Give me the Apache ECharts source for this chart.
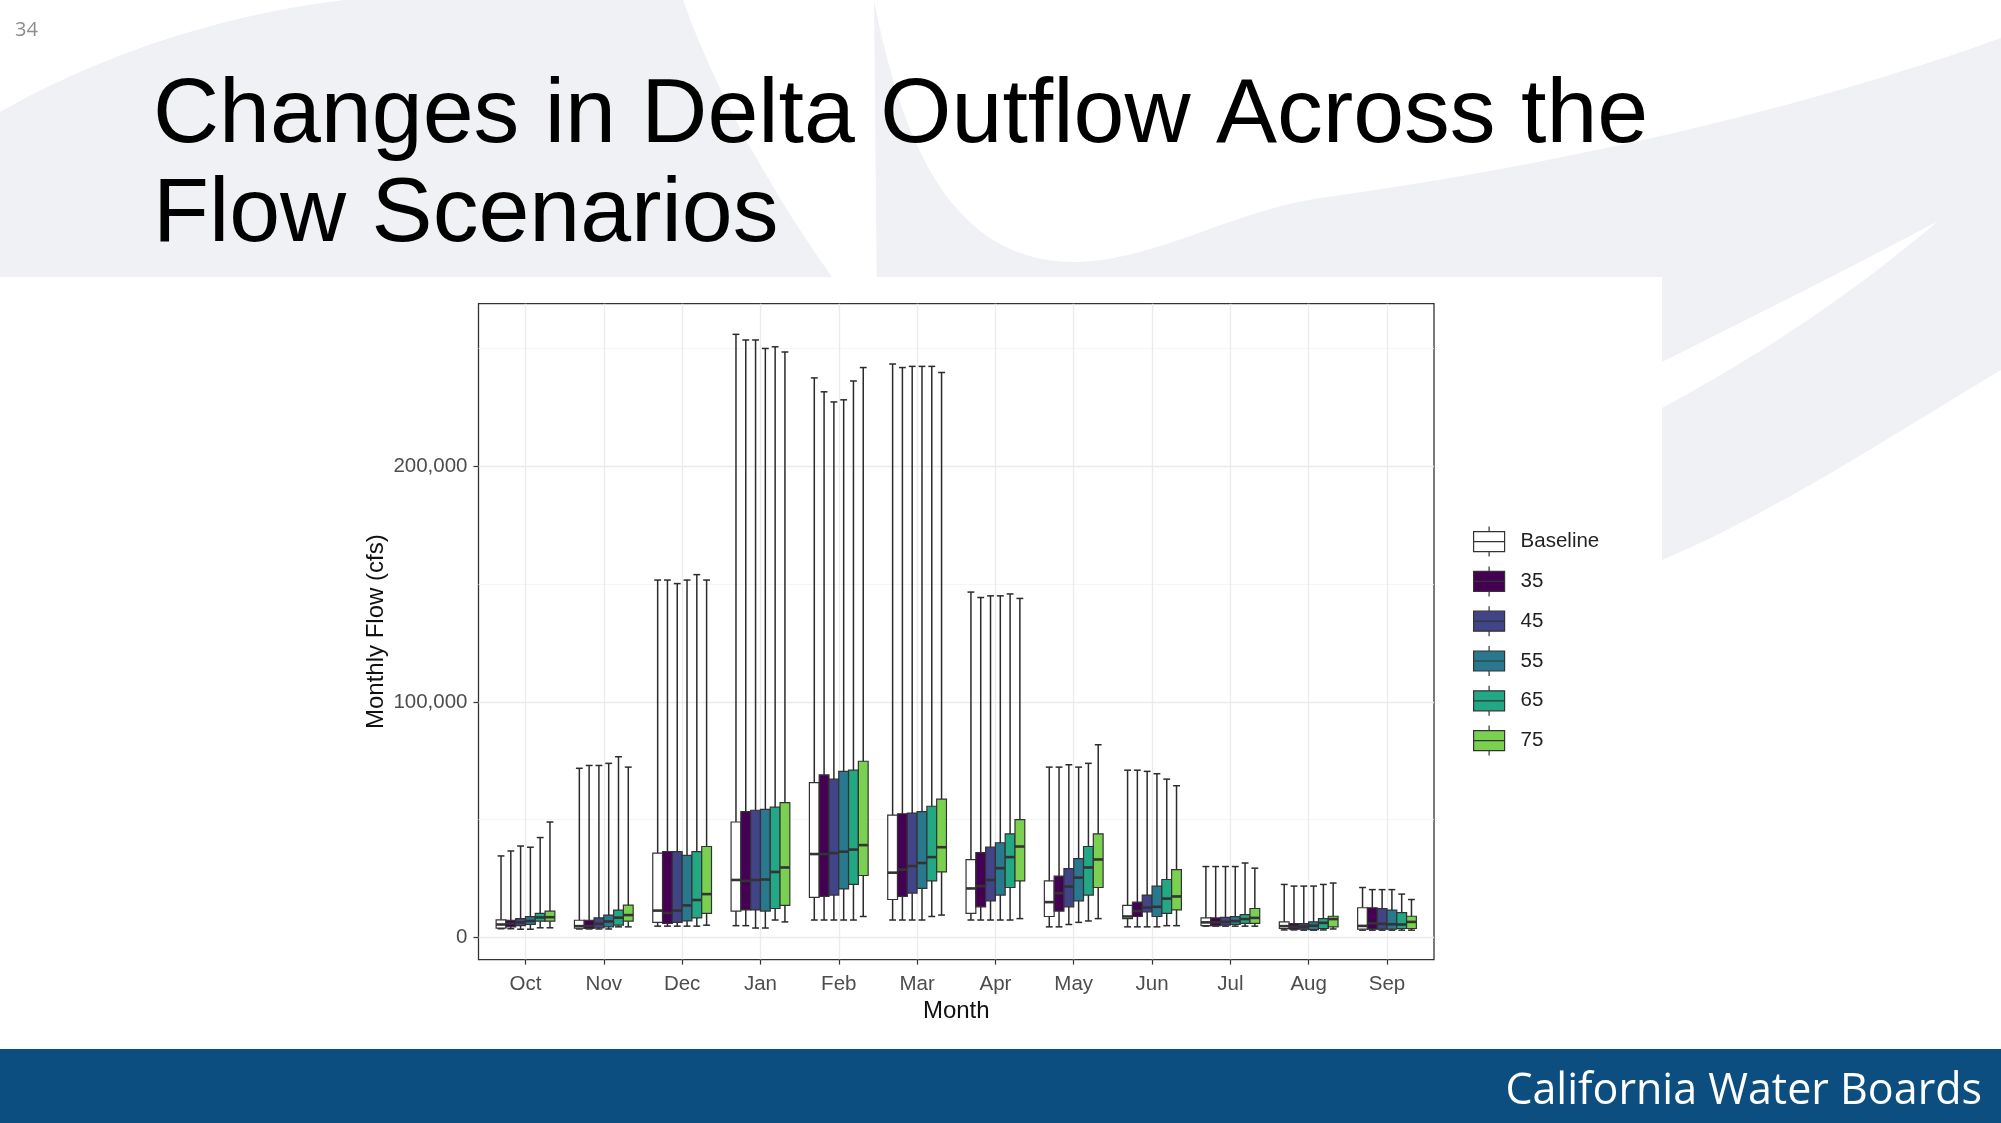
<!DOCTYPE html>
<html>
<head>
<meta charset="utf-8">
<title>Changes in Delta Outflow Across the Flow Scenarios</title>
<script src="https://cdn.jsdelivr.net/npm/echarts@6.0.0/dist/echarts.min.js"></script>
<style>
  html, body { margin: 0; padding: 0; background: #fff; }
  #chart { width: 2001px; height: 1123px; }
</style>
</head>
<body>
<div id="chart"></div>
<script>
  // water year order
  let months = ['Oct', 'Nov', 'Dec', 'Jan', 'Feb', 'Mar', 'Apr', 'May', 'Jun', 'Jul', 'Aug', 'Sep'];
  let scenarios = ['Baseline', '35', '45', '55', '65', '75'];
  let colors = ['#ffffff', '#440154', '#414487', '#2a788e', '#22a884', '#7ad151'];

  // one row per month: [min, q1, median, q3, max]  (cfs)
  let baseline = [
    [3700, 4000, 5500, 7500, 34600], [3600, 3900, 4800, 7300, 71800], [4800, 6400, 11400, 35800, 151700],
    [5000, 11200, 24400, 49000, 256000], [7400, 17000, 35400, 65700, 237500], [7400, 16100, 27500, 51900, 243400],
    [7400, 10200, 20800, 33000, 146600], [4500, 8900, 15000, 24000, 72300], [4500, 8000, 8900, 13600, 71000],
    [4800, 5000, 6400, 8300, 30100], [3200, 3800, 4800, 6600, 22500], [3100, 3500, 4900, 12600, 21200]
  ];
  let flow35 = [
    [3700, 4500, 5900, 7300, 36700], [3600, 3800, 4800, 7300, 73000], [4800, 6000, 10400, 36400, 151700],
    [5000, 11700, 24000, 53400, 253600], [7400, 17400, 35400, 69000, 231600], [7400, 17400, 28800, 52500, 241900],
    [7400, 13000, 21800, 36000, 144300], [4500, 11200, 18800, 26000, 72300], [4500, 8900, 11200, 15000, 71000],
    [4800, 5000, 6400, 8300, 30100], [3200, 3500, 4500, 5900, 21800], [3100, 3500, 6000, 12600, 20300]
  ];
  let flow45 = [
    [3500, 5000, 6400, 8000, 38800], [3600, 4100, 5800, 8300, 73000], [4800, 6400, 11400, 36400, 150200],
    [4000, 11700, 24400, 54000, 253600], [7400, 18000, 35800, 67200, 227300], [7400, 18800, 30300, 52800, 242400],
    [7400, 15500, 24400, 38300, 145000], [5500, 13000, 21600, 29200, 73300], [4500, 10800, 12700, 18000, 70500],
    [4800, 5200, 6600, 8500, 30100], [3100, 3500, 4600, 5900, 21800], [3100, 3500, 5800, 12200, 20300]
  ];
  let flow55 = [
    [3500, 5500, 7000, 8800, 38300], [3600, 4500, 6800, 9500, 73900], [4800, 7000, 13600, 34800, 151700],
    [4000, 11200, 24600, 54400, 250000], [7400, 20600, 36400, 70500, 228200], [7400, 20800, 31600, 53400, 242400],
    [7400, 18000, 29400, 40200, 145000], [6400, 15500, 25400, 33500, 72300], [4500, 8900, 13000, 21800, 69500],
    [4800, 5500, 7000, 8800, 30100], [3100, 3300, 5000, 6600, 21800], [3100, 3500, 5600, 11600, 20300]
  ];
  let flow65 = [
    [4100, 6900, 8500, 10200, 42400], [4500, 5200, 8400, 11600, 76700], [4800, 8300, 15900, 36400, 154000],
    [7400, 12300, 27800, 55300, 250700], [7400, 22500, 37300, 71000, 236200], [8900, 24000, 34100, 55700, 242400],
    [7400, 21200, 34100, 44000, 145800], [7000, 18000, 29700, 38600, 73900], [5000, 10200, 16500, 24600, 67200],
    [4800, 6000, 7800, 9700, 31600], [3200, 3800, 6200, 8000, 22500], [3100, 3800, 5500, 10500, 18400]
  ];
  let flow75 = [
    [4100, 6900, 8600, 11200, 49000], [4500, 6900, 9500, 13700, 72300], [5200, 10200, 18400, 38600, 151700],
    [6600, 13600, 29700, 57200, 248500], [8900, 26300, 39200, 74800, 241900], [9500, 27800, 38300, 58700, 239800],
    [8000, 24000, 38600, 50000, 143900], [8000, 21200, 33100, 44000, 81800], [5000, 11700, 17400, 28800, 64400],
    [4800, 6000, 8300, 12300, 29400], [3600, 4500, 7800, 9000, 23100], [3100, 3800, 6600, 9000, 16100]
  ];
  let allStats = [baseline, flow35, flow45, flow55, flow65, flow75];

  let yTicks = [0, 100000, 200000];
  let yMinor = [50000, 150000, 250000];
  let xTicks = months.map(function (m, i) { return i; });

  let font = 'Liberation Sans';
  let bgGrey = '#f0f1f4';

  // sample a cubic bezier into polygon points (background swooshes only)
  function bez(p0, p1, p2, p3) {
    let pts = [];
    for (let i = 0; i <= 24; i++) {
      let t = i / 24, u = 1 - t;
      pts.push([
        u * u * u * p0[0] + 3 * u * u * t * p1[0] + 3 * u * t * t * p2[0] + t * t * t * p3[0],
        u * u * u * p0[1] + 3 * u * u * t * p1[1] + 3 * u * t * t * p2[1] + t * t * t * p3[1]
      ]);
    }
    return pts;
  }

  let swooshLeft = [].concat(
    bez([0, 112], [100, 55], [220, 15], [344, 0]),
    bez([683, 0], [715, 90], [770, 190], [832, 277]),
    [[0, 277]]
  );
  let swooshRight = [].concat(
    bez([874, 0], [905, 160], [960, 265], [1080, 262]),
    bez([1080, 262], [1160, 258], [1230, 212], [1320, 198]),
    bez([1320, 198], [1560, 165], [1800, 110], [2001, 38]),
    bez([2001, 370], [1900, 430], [1780, 510], [1662, 560]),
    [[1662, 620], [880, 620]]
  );
  let swooshGap = [].concat(
    bez([1662, 362], [1750, 318], [1850, 268], [1938, 221]),
    bez([1938, 221], [1855, 292], [1765, 352], [1662, 408])
  );

  // one dodged box per scenario (like ggplot position_dodge)
  function renderBox(params, api) {
    let k = params.seriesIndex;
    let x = api.value(0);
    let band = api.size([1, 0])[0];
    let w = band * 0.75 / scenarios.length;
    let off = (k - (scenarios.length - 1) / 2) * w;
    let pMin = api.coord([x, api.value(1)]);
    let pQ1 = api.coord([x, api.value(2)]);
    let pMed = api.coord([x, api.value(3)]);
    let pQ3 = api.coord([x, api.value(4)]);
    let pMax = api.coord([x, api.value(5)]);
    let cx = pMin[0] + off;
    let cap = w * 0.35;
    let ls = { stroke: '#2b2b2b', lineWidth: 1.5 };
    return {
      type: 'group',
      children: [
        { type: 'line', shape: { x1: cx, y1: pMax[1], x2: cx, y2: pMin[1] }, style: ls },
        { type: 'line', shape: { x1: cx - cap, y1: pMax[1], x2: cx + cap, y2: pMax[1] }, style: ls },
        { type: 'line', shape: { x1: cx - cap, y1: pMin[1], x2: cx + cap, y2: pMin[1] }, style: ls },
        {
          type: 'rect',
          shape: { x: cx - w / 2, y: pQ3[1], width: w, height: pQ1[1] - pQ3[1] },
          style: { fill: api.visual('color'), stroke: '#333', lineWidth: 1.2 }
        },
        { type: 'line', shape: { x1: cx - w / 2, y1: pMed[1], x2: cx + w / 2, y2: pMed[1] }, style: { stroke: '#333', lineWidth: 2.6 } }
      ]
    };
  }

  let seriesList = scenarios.map(function (name, k) {
    return {
      type: 'custom',
      name: name,
      renderItem: renderBox,
      itemStyle: { color: colors[k] },
      encode: { x: 0, y: [1, 2, 3, 4, 5] },
      data: allStats[k].map(function (r, i) { return [i].concat(r); }),
      z: 3
    };
  });

  let myChart = echarts.init(document.getElementById('chart'));
  let option = {
    backgroundColor: '#fff',
    animation: false,
    title: {
      text: 'Changes in Delta Outflow Across the\nFlow Scenarios',
      left: 153,
      top: 67,
      padding: 0,
      textStyle: { fontFamily: font, fontSize: 91.5, fontWeight: 'normal', color: '#000', lineHeight: 99 }
    },
    graphic: [
      // slide background swooshes
      { type: 'polygon', silent: true, z: -20, shape: { points: swooshLeft }, style: { fill: bgGrey } },
      { type: 'polygon', silent: true, z: -20, shape: { points: swooshRight }, style: { fill: bgGrey } },
      { type: 'polygon', silent: true, z: -19, shape: { points: swooshGap }, style: { fill: '#fff' } },
      // white plot picture
      { type: 'rect', silent: true, z: -18, shape: { x: 0, y: 277, width: 1662, height: 772 }, style: { fill: '#fff' } },
      // footer band
      { type: 'rect', silent: true, z: -18, shape: { x: 0, y: 1049, width: 2001, height: 74 }, style: { fill: '#0c4e7f' } },
      {
        type: 'text', silent: true, z: 10, x: 1982, y: 1092,
        style: { text: 'California Water Boards', fill: '#fff', font: '43px "Open Sans"', textAlign: 'right', textVerticalAlign: 'middle' }
      },
      {
        type: 'text', silent: true, z: 10, x: 15, y: 30,
        style: { text: '34', fill: '#8c8c8c', font: '20px "Open Sans"', textAlign: 'left', textVerticalAlign: 'middle' }
      }
    ],
    legend: {
      orient: 'vertical',
      left: 1473,
      top: 526,
      padding: 0,
      itemWidth: 31,
      itemHeight: 30,
      itemGap: 8.6,
      icon: 'path://M0,5H31V25H0Z M0,15H31 M15.5,0V5 M15.5,25V30',
      textStyle: { fontFamily: font, fontSize: 20.5, color: '#222', padding: [0, 0, 0, 11] },
      data: scenarios.map(function (n, k) {
        return { name: n, itemStyle: { color: colors[k], borderColor: '#333', borderWidth: 1.2 } };
      })
    },
    grid: {
      left: 478.5,
      right: 567,
      top: 303.7,
      bottom: 163.4,
      show: true,
      borderColor: '#333',
      borderWidth: 1.3,
      backgroundColor: 'transparent'
    },
    xAxis: {
      type: 'value',
      min: -0.6,
      max: 11.6,
      axisLine: { show: false, onZero: false },
      axisTick: { show: true, customValues: xTicks, length: 5, lineStyle: { color: '#333', width: 1.2 } },
      axisLabel: {
        customValues: xTicks,
        formatter: function (v) { return months[v]; },
        fontFamily: font, fontSize: 20.5, color: '#4d4d4d', margin: 14
      },
      splitLine: { show: true, lineStyle: { color: '#ebebeb', width: 1.3 } },
      name: 'Month',
      nameLocation: 'middle',
      nameGap: 40,
      nameTextStyle: { fontFamily: font, fontSize: 24, color: '#111' }
    },
    yAxis: [
      {
        type: 'value',
        min: -9400,
        max: 269000,
        axisLine: { show: false, onZero: false },
        axisTick: { show: true, customValues: yTicks, length: 5, lineStyle: { color: '#333', width: 1.2 } },
        axisLabel: {
          customValues: yTicks,
          formatter: function (v) { return v.toLocaleString('en-US'); },
          fontFamily: font, fontSize: 20.5, color: '#4d4d4d', margin: 11
        },
        splitLine: { show: true, lineStyle: { color: '#ebebeb', width: 1.3 } },
        name: 'Monthly Flow (cfs)',
        nameLocation: 'middle',
        nameGap: 90,
        nameTextStyle: { fontFamily: font, fontSize: 24, color: '#111' }
      },
      {
        // minor grid only
        type: 'value',
        min: -9400,
        max: 269000,
        position: 'left',
        axisLine: { show: false, onZero: false },
        axisTick: { show: false, customValues: yMinor },
        axisLabel: { show: false },
        splitLine: { show: true, lineStyle: { color: '#f3f3f3', width: 0.8 } }
      }
    ],
    series: seriesList
  };
  myChart.setOption(option);
</script>
</body>
</html>
